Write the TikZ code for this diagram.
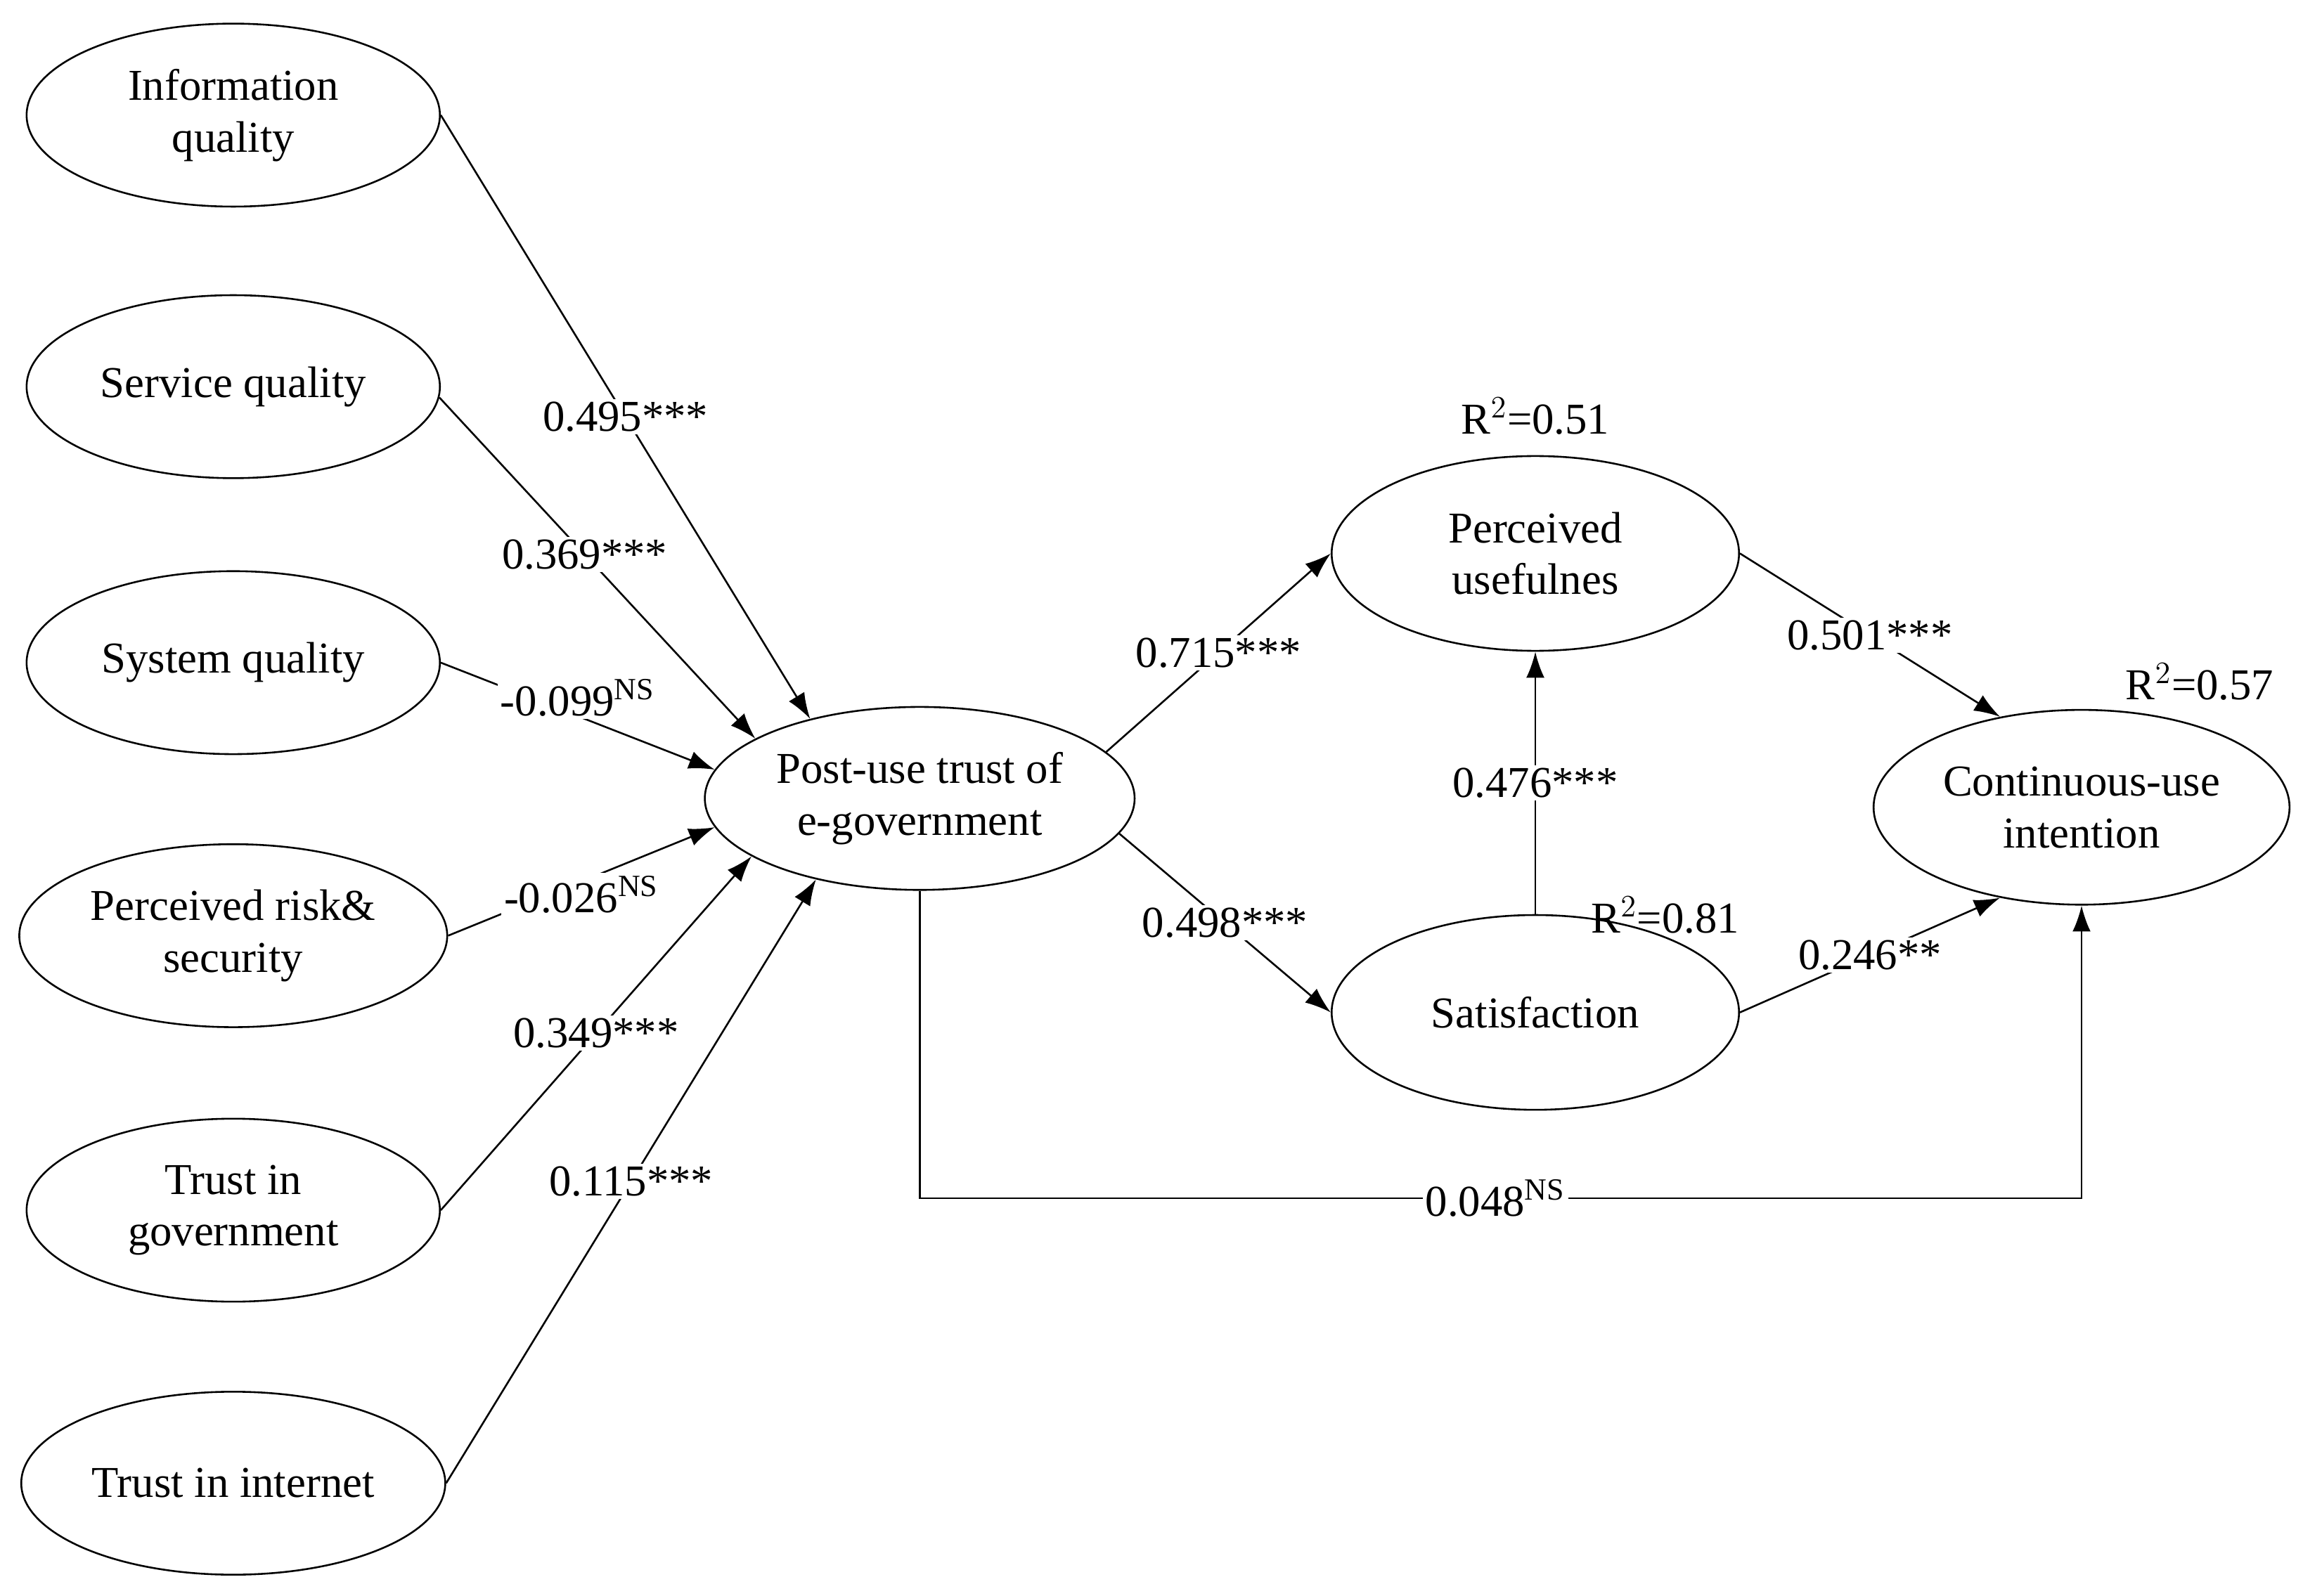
\documentclass[tikz,border=0pt]{standalone}
\usepackage{fontspec}
\setmainfont{Liberation Serif}
\usetikzlibrary{shapes.geometric,arrows.meta}
\begin{document}
\begin{tikzpicture}[x=0.02cm,y=-0.02cm,
  every node/.style={font=\fontsize{17}{20}\selectfont},
  ell/.style={draw,ellipse,minimum width=5.6cm,minimum height=2.48cm,align=center,line width=0.7pt},
  arr/.style={-{Latex[length=10pt,width=7pt]},line width=0.7pt},
  ln/.style={line width=0.7pt},
  lab/.style={fill=white,inner sep=1pt}]
\useasboundingbox (0,0) rectangle (1560,1081);
\node[ell] (iq) at (158,78) {Information\\quality};
\node[ell] (sq) at (158,262) {Service quality};
\node[ell] (syq) at (158,449) {System quality};
\node[ell] (pr) at (158,634) {Perceived risk\&\\security};
\node[ell] (tg) at (158,820) {Trust in\\government};
\node[ell] (ti) at (158,1005) {Trust in internet};
\node[ell] (pt) at (623,541) {Post-use trust of\\e-government};
\node[ell,minimum width=5.52cm,minimum height=2.64cm] (pu) at (1040,375) {Perceived\\usefulnes};
\node[ell,minimum width=5.52cm,minimum height=2.64cm] (sa) at (1040,686) {Satisfaction};
\node[ell,minimum width=5.52cm,minimum height=2.64cm] (cu) at (1410,547) {Continuous-use\\intention};
\coordinate (bot) at (1013,812);

\draw[arr] (iq.east) -- (pt.144) node[lab,pos=0.5] {0.495***};
\draw[arr] (sq.-3) -- (pt.160) node[lab,pos=0.46] {0.369***};
\draw[arr] (syq.east) -- (pt.172) node[lab,pos=0.5,yshift=7] {-0.099$^{\mathrm{NS}}$};
\draw[arr] (pr.east) -- (pt.188) node[lab,pos=0.5,yshift=-5] {-0.026$^{\mathrm{NS}}$};
\draw[arr] (tg.east) -- (pt.199) node[lab,pos=0.5] {0.349***};
\draw[arr] (ti.east) -- (pt.218) node[lab,pos=0.5] {0.115***};
\draw[arr] (pt.14) -- (pu.west) node[lab,pos=0.5] {0.715***};
\draw[arr] (pt.-10) -- (sa.west) node[lab,pos=0.5] {0.498***};
\draw[arr] (sa.north) -- (pu.south) node[lab,pos=0.5] {0.476***};
\draw[arr] (pu.east) -- (cu.132) node[lab,pos=0.5] {0.501***};
\draw[arr] (sa.east) -- (cu.228) node[lab,pos=0.5] {0.246**};
\draw[arr] (pt.south) |- (bot) -| (cu.south);
\node[lab] at (bot) {0.048$^{\mathrm{NS}}$};
\node at (1040,282) {R$^2$=0.51};
\node at (1490,462) {R$^2$=0.57};
\node at (1128,620) {R$^2$=0.81};
\end{tikzpicture}
\end{document}
